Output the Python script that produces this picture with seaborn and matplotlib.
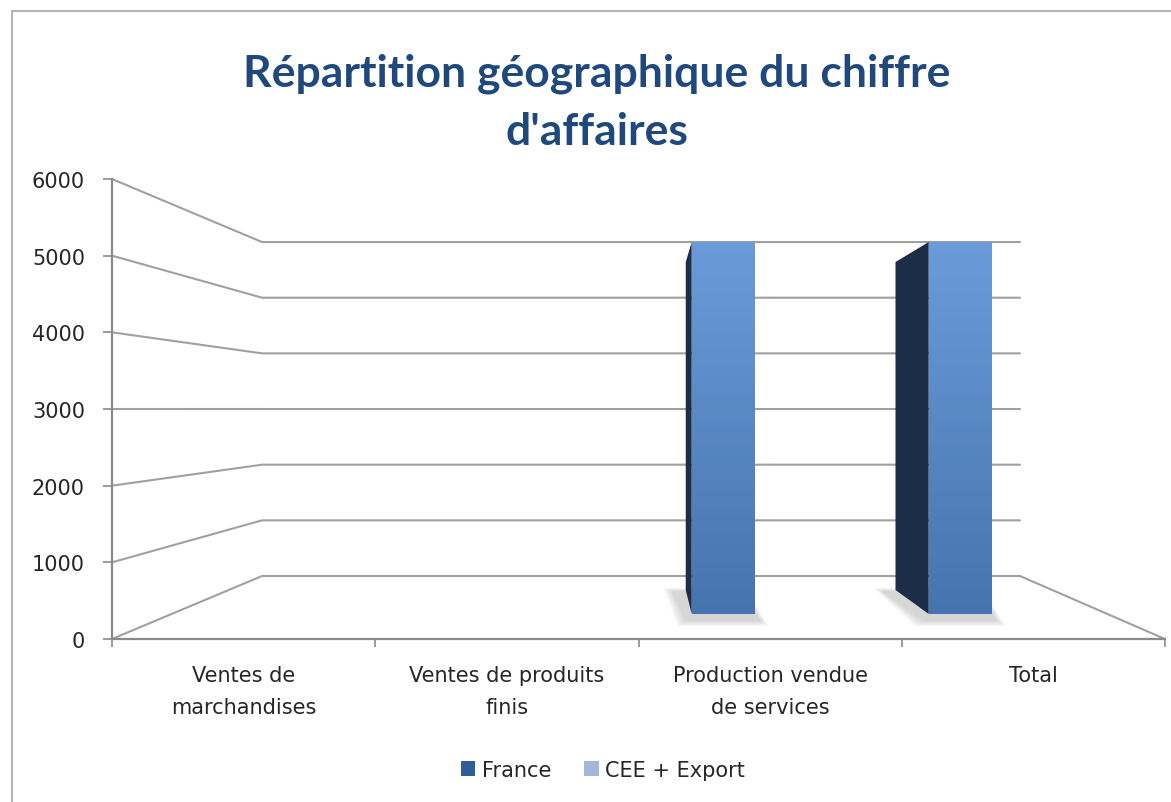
import matplotlib.pyplot as plt
import matplotlib.transforms as mtransforms
import numpy as np
import pandas as pd
import seaborn as sns
from matplotlib.colors import LinearSegmentedColormap
from matplotlib.lines import Line2D
from matplotlib.patches import Polygon

# données (les barres France sont coupées au maximum de l'axe)
categories = ["Ventes de\nmarchandises", "Ventes de produits\nfinis",
              "Production vendue\nde services", "Total"]
series = ["France", "CEE + Export"]
france = [0, 0, 6000, 6000]
cee_export = [0, 0, 0, 0]
y_ticks = [0, 1000, 2000, 3000, 4000, 5000, 6000]

df = pd.DataFrame({
    'categorie': categories * 2,
    'serie': [series[0]] * len(categories) + [series[1]] * len(categories),
    'valeur': france + cee_export,
})

W, H = 1171, 803
sns.set_theme(style='white')
plt.rcParams['font.family'] = ['DejaVu Sans']

fig = plt.figure(figsize=(W / 100, H / 100), dpi=100)
fig.patch.set_facecolor('white')


def px_rect(x0, y0, x1, y1):
    """Rectangle en pixels (origine en haut à gauche) -> coordonnées figure."""
    return [x0 / W, 1 - y1 / H, (x1 - x0) / W, (y1 - y0) / H]


grid_col = '#a0a0a0'
text_col = '#262626'

# plan avant : axe des valeurs et axe des catégories
ax = fig.add_axes(px_rect(112, 180, 1165, 640))
ax.set_xlim(0, 4)
ax.set_ylim(0, 6000)
ax.patch.set_alpha(0)
for side in ['top', 'right']:
    ax.spines[side].set_visible(False)
for side in ['left', 'bottom']:
    ax.spines[side].set_color('#8a8a8a')
    ax.spines[side].set_linewidth(1.6)
ax.set_yticks(y_ticks)
ax.set_yticklabels([str(v) for v in y_ticks], fontsize=15, color=text_col)
ax.set_xticks(range(5))
ax.set_xticklabels([''] * 5)
ax.set_xticks(np.arange(len(categories)) + 0.5, minor=True)
ax.set_xticklabels(categories, minor=True, fontsize=15, color=text_col, linespacing=1.75)
ax.tick_params(axis='y', direction='out', length=6.5, width=1.2, color='#8a8a8a', pad=13, left=True)
ax.tick_params(axis='x', which='major', direction='out', length=6, width=1.2, color='#8a8a8a', bottom=True)
ax.tick_params(axis='x', which='minor', length=0, pad=19)

# parois en perspective (mur du fond + bord du plancher)
x_back_left, x_back_right = 0.570, 3.449
back_y0, back_slope = 821.7, 0.726
for v in y_ticks:
    yb = back_y0 + v * back_slope
    ax.plot([0, x_back_left, x_back_right], [v, yb, yb], color=grid_col, lw=1.5, clip_on=False)
ax.plot([x_back_right, 4], [back_y0, 0], color=grid_col, lw=1.5, clip_on=False)

# barres
bx = fig.add_axes(px_rect(162, 243, 1110, 615))
palette = {'France': '#5684c1', 'CEE + Export': '#a3b7da'}
sns.barplot(data=df, x='categorie', y='valeur', hue='serie', palette=palette,
            width=0.53, saturation=1, linewidth=0, ax=bx, legend=True)
bx.set_ylim(0, 6000)
bx.set_xlim(-0.5, len(categories) - 0.5)
bx.axis('off')
bx.patch.set_alpha(0)

ident = mtransforms.IdentityTransform()
grad = LinearSegmentedColormap.from_list('face', ['#4674b0', '#6a9bd8'])
bars = [p for p in bx.patches if p.get_height() > 0]
for p in bars:
    (x0, y0), (x1, y1) = bx.transData.transform(
        [(p.get_x(), p.get_y()), (p.get_x() + p.get_width(), p.get_y() + p.get_height())])
    dx = max(0, (x0 - 640) * 0.115)
    # ombre portée douce sur le plancher (derrière la barre)
    for g in range(10, 0, -2):
        shadow = Polygon([(x0 - dx - 12 - g, y0 + 22 + g * 0.4), (x1 - 10, y0 + 22 + g * 0.4),
                          (x1 + 4 + g, y0 - 6 - g * 0.6), (x0 - 4 - g, y0 - 6 - g * 0.6)],
                         closed=True, facecolor='#808080', alpha=0.07, edgecolor='none',
                         transform=ident, zorder=-1)
        fig.add_artist(shadow)
    # dégradé sur la face avant
    img = bx.imshow(np.linspace(0, 1, 64).reshape(-1, 1), cmap=grad, origin='lower', aspect='auto',
                    extent=[p.get_x(), p.get_x() + p.get_width(), p.get_y(), p.get_y() + p.get_height()],
                    zorder=p.get_zorder() + 0.1)
    img.set_clip_path(p)
    # face latérale sombre
    if dx >= 1:
        side = Polygon([(x0, y1), (x0 - dx, y1 - 20), (x0 - dx, y0 + 24), (x0, y0)],
                       closed=True, facecolor='#1c2d47', edgecolor='none', transform=ident)
        fig.add_artist(side)
bx.set_ylim(0, 6000)
bx.set_xlim(-0.5, len(categories) - 0.5)

sns.move_legend(bx, 'center', bbox_to_anchor=(603 / W, 1 - 771 / H),
                bbox_transform=fig.transFigure, ncol=2, frameon=False,
                title=None, fontsize=15, handlelength=0.7, handleheight=0.7,
                handletextpad=0.3, columnspacing=1.6)
leg = bx.get_legend()
leg.legend_handles[0].set_facecolor('#2f5c9a')
for t in leg.get_texts():
    t.set_color(text_col)

# titre
title_col = '#1f497d'
for txt, ypx in [("Répartition géographique du chiffre", 74), ("d'affaires", 132)]:
    fig.text(597 / W, 1 - ypx / H, txt, ha='center', va='center', fontsize=32,
             fontweight='bold', color=title_col, family=['Lato', 'DejaVu Sans'])

# cadre de la zone de graphique
fig.add_artist(Line2D([12 / W, 1], [1 - 12 / H, 1 - 12 / H], transform=fig.transFigure,
                      color='#b5b5b5', lw=1.5))
fig.add_artist(Line2D([12 / W, 12 / W], [1 - 12 / H, 0], transform=fig.transFigure,
                      color='#b5b5b5', lw=1.5))

fig.savefig('out.png', dpi=100)
